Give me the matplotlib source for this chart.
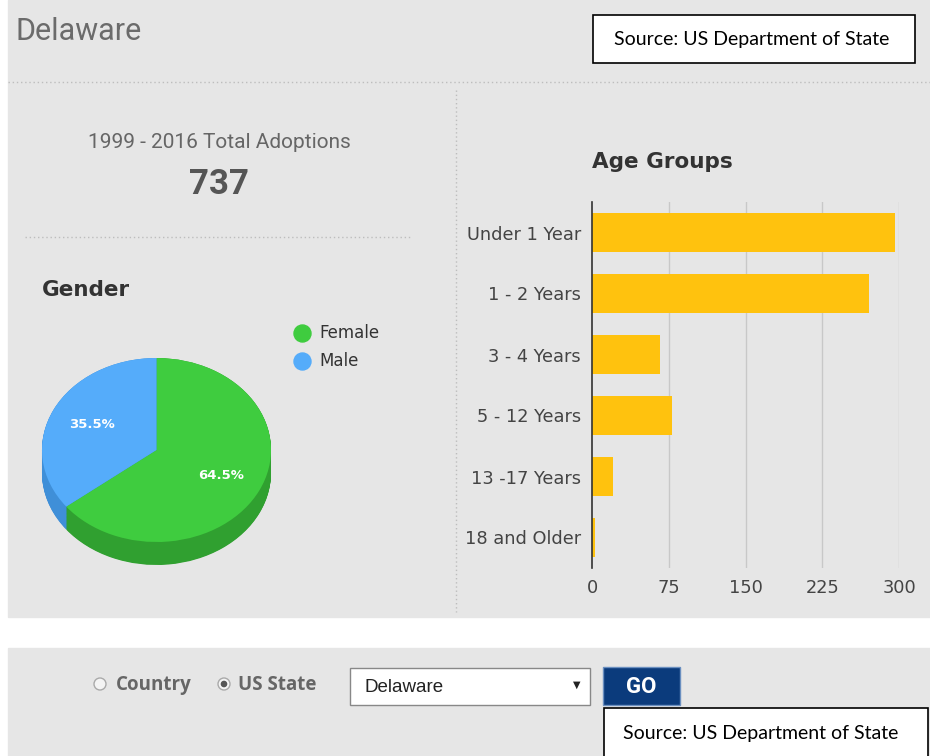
import matplotlib
matplotlib.use('Agg')
import matplotlib.pyplot as plt
import matplotlib.patches as mpatches
import numpy as np

# data
state = 'Delaware'
total_label = '1999 - 2016 Total Adoptions'
total = 737
genders = ['Female', 'Male']
gender_counts = [475, 262]
age_groups = ['Under 1 Year', '1 - 2 Years', '3 - 4 Years', '5 - 12 Years', '13 -17 Years', '18 and Older']
age_counts = [296, 271, 66, 78, 21, 3]
age_ticks = [0, 75, 150, 225, 300]
source = 'Source: US Department of State'

W, H = 930, 756
fig = plt.figure(figsize=(W / 100, H / 100), dpi=100, facecolor='white')

# background axes in pixel coords
bg = fig.add_axes([0, 0, 1, 1])
bg.set_xlim(0, W)
bg.set_ylim(H, 0)
bg.axis('off')

panel = '#e6e6e6'
bg.add_patch(mpatches.Rectangle((8, 0), W - 8, 617, color=panel, zorder=0))
bg.add_patch(mpatches.Rectangle((8, 648), W - 8, H - 648, color=panel, zorder=0))

# dotted separators
bg.plot([8, W], [82, 82], ls=(0, (1, 2)), color='#bdbdbd', lw=1)
bg.plot([456, 456], [90, 612], ls=(0, (1, 2)), color='#bdbdbd', lw=1)
bg.plot([25, 410], [237, 237], ls=(0, (1, 2)), color='#bdbdbd', lw=1)

cond = ['Roboto', 'DejaVu Sans']
bg.text(15, 31, state, fontsize=22, color='#6b6b6b', family=cond, va='center', ha='left')

# source box top
bg.add_patch(mpatches.Rectangle((593, 15), 322, 48, facecolor='white', edgecolor='black', lw=1.2, zorder=2))
bg.text(752, 40, source, fontsize=14, family=['Lato', 'DejaVu Sans'], ha='center', va='center', zorder=3)

# totals
bg.text(219, 142, total_label, fontsize=15, color='#666666', family=cond, ha='center', va='center')
bg.text(219, 184, str(total), fontsize=25, color='#555555', family=cond, weight='bold', ha='center', va='center')

bg.text(42, 290, 'Gender', fontsize=15.5, color='#333333', weight='bold', ha='left', va='center')
bg.text(592, 162, 'Age Groups', fontsize=15.5, color='#333333', weight='bold', ha='left', va='center')

# pie (3d look)
top_cols = ['#3fcc3f', '#55acfa']
side_cols = ['#30a030', '#3f8fd8']
pax = fig.add_axes([42 / W, 1 - 565 / H, 229 / W, 207 / H])
depth = 0.25
for d in np.linspace(depth, 0.0, 40):
    pax.pie(gender_counts, colors=side_cols, startangle=90, counterclock=False,
            center=(0, -d), wedgeprops=dict(linewidth=0))
wedges, texts, autotexts = pax.pie(gender_counts, colors=top_cols, startangle=90, counterclock=False,
                                   autopct='%.1f%%', pctdistance=0.63,
                                   wedgeprops=dict(linewidth=0),
                                   textprops=dict(color='white', fontsize=9.5, weight='bold'))
pax.set_aspect('auto')
pax.set_xlim(-1, 1)
pax.set_ylim(-1 - depth, 1)
pax.axis('off')

# legend
for i, (g, c) in enumerate(zip(genders, top_cols)):
    y = 333 + 28 * i
    bg.scatter([302], [y], s=150, color=c, zorder=3)
    bg.text(319, y, g, fontsize=12, color='#333333', va='center', ha='left')

# bar chart
bax = fig.add_axes([592 / W, 1 - 568 / H, 307 / W, 366 / H])
bax.set_facecolor('none')
ypos = np.arange(len(age_groups))
bax.barh(ypos, age_counts, height=0.64, color='#ffc20e', zorder=2)
bax.set_xlim(0, 300)
bax.set_ylim(len(age_groups) - 0.5, -0.5)
bax.set_yticks(ypos)
bax.set_yticklabels(age_groups)
bax.set_xticks(age_ticks)
bax.tick_params(axis='both', length=0, labelsize=12.8, labelcolor='#444444')
bax.tick_params(axis='y', pad=8)
bax.tick_params(axis='x', pad=8)
for t in age_ticks[1:]:
    bax.axvline(t, color='#c8c8c8', lw=1, zorder=1)
for s in ['top', 'right', 'bottom']:
    bax.spines[s].set_visible(False)
bax.spines['left'].set_color('#333333')
bax.spines['left'].set_linewidth(1.2)
bax.spines['left'].set_zorder(3)

# bottom controls
ctl = ['Open Sans', 'DejaVu Sans']
bg.add_patch(mpatches.Circle((100, 684), 6, facecolor='#f4f4f4', edgecolor='#aaaaaa', lw=1, zorder=2))
bg.text(116, 685, 'Country', fontsize=13.5, weight='bold', color='#666666', va='center', ha='left', family=ctl)
bg.add_patch(mpatches.Circle((224, 684), 6, facecolor='#f4f4f4', edgecolor='#aaaaaa', lw=1, zorder=2))
bg.add_patch(mpatches.Circle((224, 684), 2.6, color='#555555', zorder=3))
bg.text(238, 685, 'US State', fontsize=13.5, weight='bold', color='#666666', va='center', ha='left', family=ctl)
bg.add_patch(mpatches.Rectangle((350, 668), 240, 37, facecolor='white', edgecolor='#888888', lw=1, zorder=2))
bg.text(364, 687, state, fontsize=13.5, color='#222222', va='center', ha='left', family=['Liberation Sans', 'DejaVu Sans'], zorder=3)
bg.text(577, 685, '▼', fontsize=7, color='#222222', va='center', ha='center', zorder=3)
bg.add_patch(mpatches.Rectangle((603, 667), 77, 38, facecolor='#0b3b7c', edgecolor='#6a8fc0', lw=1, zorder=2))
bg.text(641, 687, 'GO', fontsize=16, weight='bold', color='white', va='center', ha='center', family=cond, zorder=3)
bg.add_patch(mpatches.Rectangle((604, 708), 324, 60, facecolor='white', edgecolor='black', lw=1.2, zorder=2))
bg.text(761, 734, source, fontsize=14, family=['Lato', 'DejaVu Sans'], ha='center', va='center', zorder=3)

fig.savefig('out.png', dpi=100, facecolor='white')
